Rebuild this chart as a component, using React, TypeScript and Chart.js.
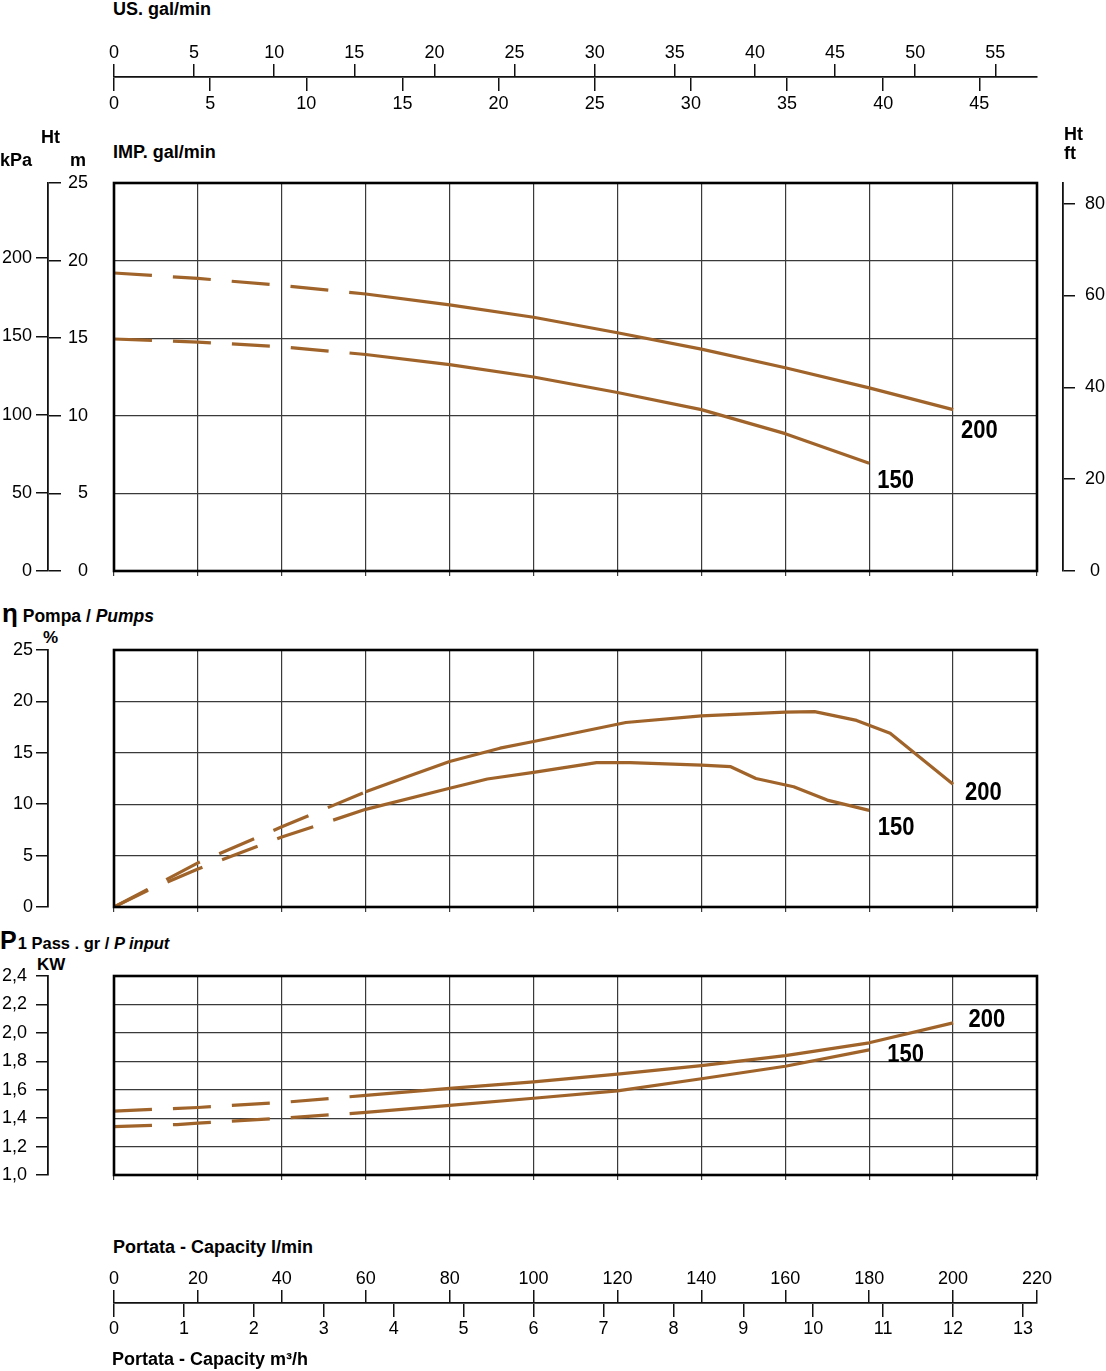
import React, { useEffect, useRef } from 'react';
import { Chart, registerables } from 'chart.js';

Chart.register(...registerables);

// ---------------- data ----------------
const CURVE_200 = '200';
const CURVE_150 = '150';

// Head, m  vs capacity, l/min
const HEAD_Q_200 = [0, 20, 40, 60, 80, 100, 120, 140, 160, 180, 200];
const HEAD_200 = [19.2, 18.85, 18.4, 17.85, 17.15, 16.35, 15.35, 14.3, 13.1, 11.8, 10.4];
const HEAD_Q_150 = [0, 20, 40, 60, 80, 100, 120, 140, 160, 180];
const HEAD_150 = [14.95, 14.75, 14.45, 13.95, 13.3, 12.5, 11.5, 10.4, 8.85, 6.95];

// Pump efficiency, %
const EFF_Q_200 = [0, 8, 20, 40, 60, 70, 80, 92, 100, 122, 140, 160, 167, 177, 185, 200];
const EFF_200 = [0, 1.7, 4.3, 7.8, 11.2, 12.7, 14.15, 15.45, 16.1, 17.95, 18.6, 18.95, 19.0, 18.15, 16.9, 11.95];
const EFF_Q_150 = [0, 8, 20, 40, 60, 80, 89, 100, 115, 123, 140, 147, 153, 162, 170, 180];
const EFF_150 = [0, 1.6, 3.7, 6.8, 9.5, 11.55, 12.45, 13.1, 14.05, 14.05, 13.8, 13.65, 12.5, 11.7, 10.4, 9.4];

// Input power P1, kW
const KW_Q_200 = [0, 20, 40, 60, 80, 100, 120, 140, 160, 180, 200];
const KW_200 = [1.45, 1.475, 1.51, 1.56, 1.61, 1.655, 1.71, 1.77, 1.84, 1.93, 2.07];
const KW_Q_150 = [0, 15, 20, 40, 60, 80, 100, 120, 140, 160, 180];
const KW_150 = [1.34, 1.355, 1.365, 1.4, 1.44, 1.49, 1.54, 1.592, 1.677, 1.765, 1.88];

const DASHED_UNTIL_Q = 60; // curves are dashed below this capacity

// axis ticks
const LPM_TICKS = [0, 20, 40, 60, 80, 100, 120, 140, 160, 180, 200, 220];
const M3H_TICKS = [0, 1, 2, 3, 4, 5, 6, 7, 8, 9, 10, 11, 12, 13];
const US_TICKS = [0, 5, 10, 15, 20, 25, 30, 35, 40, 45, 50, 55];
const IMP_TICKS = [0, 5, 10, 15, 20, 25, 30, 35, 40, 45];
const M_TICKS = [0, 5, 10, 15, 20, 25];
const KPA_TICKS = [0, 50, 100, 150, 200];
const FT_TICKS = [0, 20, 40, 60, 80];
const EFF_TICKS = [0, 5, 10, 15, 20, 25];
const KW_TICKS = [1.0, 1.2, 1.4, 1.6, 1.8, 2.0, 2.2, 2.4];

// axis ranges
const Q_MAX = 220;
const US_MAX = 57.6;
const IMP_MAX = 48;
const M3H_MAX = 13.2;
const H_MAX = 25;
const KPA_MAX = 248;
const FT_MAX = 84.5;
const EFF_MAX = 25;
const KW_MIN = 1.0;
const KW_MAX = 2.4;

// ---------------- styles ----------------
const CURVE_COLOR = '#a0642a';
const GRID_COLOR = '#3a3a3a';
const AXIS_COLOR = '#111';
const DASH = [38, 21];
const SANS = "'Liberation Sans', Arial, Helvetica, sans-serif";
const TICK_FONT = { family: SANS, size: 18, lineHeight: 1 };

const fixTicks = (values: number[]) => (scale: any) => {
  scale.ticks = values.map((v) => ({ value: v }));
};
const setW = (w: number) => (s: any) => {
  s.width = w;
};
const setH = (h: number) => (s: any) => {
  s.height = h;
};
const commaFmt = (v: any) => Number(v).toFixed(1).replace('.', ',');

const framePlugin = {
  id: 'frame',
  afterDatasetsDraw(chart: any) {
    const { ctx, chartArea: a } = chart;
    ctx.save();
    ctx.strokeStyle = '#000';
    ctx.lineWidth = 2.6;
    ctx.strokeRect(a.left, a.top, a.right - a.left, a.bottom - a.top);
    ctx.restore();
  },
};

// draws each curve's name next to its last point (condensed bold text)
const curveLabelPlugin = {
  id: 'curveLabels',
  afterDatasetsDraw(chart: any, _args: any, opts: any) {
    if (!opts || !opts.offsets) return;
    const { ctx } = chart;
    const size = opts.size || 25;
    const squeeze = opts.squeeze || 0.88;
    ctx.save();
    ctx.font = `bold ${size}px ${SANS}`;
    ctx.fillStyle = '#000';
    ctx.textAlign = 'left';
    ctx.textBaseline = 'alphabetic';
    chart.data.datasets.forEach((ds: any, i: number) => {
      const meta = chart.getDatasetMeta(i);
      const pt = meta.data[meta.data.length - 1];
      const off = opts.offsets[i];
      if (!pt || !off) return;
      ctx.save();
      ctx.translate(pt.x + off[0], pt.y + off[1] + size * 0.358);
      ctx.scale(squeeze, 1);
      ctx.fillText(ds.label, 0, 0);
      ctx.restore();
    });
    ctx.restore();
  },
};

function curve(name: string, xs: number[], ys: number[]) {
  return {
    label: name,
    data: xs.map((x, i) => ({ x, y: ys[i] })),
    borderColor: CURVE_COLOR,
    backgroundColor: CURVE_COLOR,
    borderWidth: 3.2,
    pointRadius: 0,
    pointHoverRadius: 0,
    tension: 0,
    fill: false,
    borderCapStyle: 'butt',
    borderJoinStyle: 'round',
    segment: {
      borderDash: (c: any) => (c.p1.parsed.x <= DASHED_UNTIL_Q ? DASH : []),
    },
  };
}

function qAxis(height: number) {
  return {
    axis: 'x',
    type: 'linear',
    position: 'bottom',
    min: 0,
    max: Q_MAX,
    afterBuildTicks: fixTicks(LPM_TICKS),
    ticks: { display: false },
    grid: { color: GRID_COLOR, lineWidth: 1.2, tickLength: 5, drawTicks: true },
    border: { display: false },
    afterFit: setH(height),
  };
}

function gridAxis(min: number, max: number, ticks: number[], width: number) {
  return {
    axis: 'y',
    type: 'linear',
    position: 'left',
    weight: 0,
    min,
    max,
    afterBuildTicks: fixTicks(ticks),
    ticks: { display: false },
    grid: { color: GRID_COLOR, lineWidth: 1.2, drawTicks: false },
    border: { display: false },
    afterFit: setW(width),
  };
}

function valueAxis(
  position: string,
  min: number,
  max: number,
  ticks: number[],
  width: number,
  padding: number,
  weight: number,
  crossAlign: string,
  fmt?: (v: any) => string,
  showBorder = true,
) {
  return {
    axis: 'y',
    type: 'linear',
    position,
    weight,
    min,
    max,
    afterBuildTicks: fixTicks(ticks),
    ticks: {
      font: TICK_FONT,
      color: '#000',
      padding,
      crossAlign,
      autoSkip: false,
      callback: fmt || ((v: any) => String(v)),
    },
    grid: { drawOnChartArea: false, tickLength: 12, color: AXIS_COLOR, lineWidth: 1.5 },
    border: { display: showBorder, color: AXIS_COLOR, width: 1.8 },
    afterFit: setW(width),
  };
}

function hAxis(
  position: string,
  max: number,
  ticks: number[],
  height: number,
  padding: number,
  showBorder: boolean,
) {
  return {
    axis: 'x',
    type: 'linear',
    position,
    min: 0,
    max,
    afterBuildTicks: fixTicks(ticks),
    ticks: {
      font: TICK_FONT,
      color: '#000',
      padding,
      autoSkip: false,
      maxRotation: 0,
      minRotation: 0,
      callback: (v: any) => String(v),
    },
    grid: { drawOnChartArea: false, tickLength: 13, color: AXIS_COLOR, lineWidth: 1.5 },
    border: { display: showBorder, color: AXIS_COLOR, width: 1.8 },
    afterFit: setH(height),
  };
}

const BASE = {
  responsive: false,
  maintainAspectRatio: false,
  animation: false,
  events: [],
};
const NO_UI = { legend: { display: false }, tooltip: { enabled: false }, title: { display: false } };

// ---------------- chart configs ----------------
const topAxesConfig = () => ({
  type: 'line',
  data: { datasets: [] },
  options: {
    ...BASE,
    layout: { padding: { left: 114, right: 69, top: 0, bottom: 0 } },
    plugins: NO_UI,
    scales: {
      us: hAxis('top', US_MAX, US_TICKS, 57, 2, true),
      imp: hAxis('bottom', IMP_MAX, IMP_TICKS, 52, 4, false),
      y: { display: false },
    },
  },
});

const bottomAxesConfig = () => ({
  type: 'line',
  data: { datasets: [] },
  options: {
    ...BASE,
    layout: { padding: { left: 114, right: 69, top: 0, bottom: 0 } },
    plugins: NO_UI,
    scales: {
      lpm: hAxis('top', Q_MAX, LPM_TICKS, 48, 2, true),
      m3h: hAxis('bottom', M3H_MAX, M3H_TICKS, 61, 3, false),
      y: { display: false },
    },
  },
});

const headSideConfig = () => ({
  type: 'line',
  data: { datasets: [] },
  options: {
    ...BASE,
    layout: { padding: { left: 0, right: 0, top: 33, bottom: 19 } },
    plugins: NO_UI,
    scales: {
      x: { display: false },
      kpa: valueAxis('left', 0, KPA_MAX, KPA_TICKS, 48, 4, 0, 'near'),
      mm: valueAxis('right', 0, H_MAX, M_TICKS, 39, 7, 0, 'far', undefined, false),
    },
  },
});

const headConfig = () => ({
  type: 'line',
  data: {
    datasets: [curve(CURVE_200, HEAD_Q_200, HEAD_200), curve(CURVE_150, HEAD_Q_150, HEAD_150)],
  },
  options: {
    ...BASE,
    layout: { padding: { left: 0, right: 0, top: 33, bottom: 0 } },
    plugins: { ...NO_UI, curveLabels: { size: 25, offsets: [[8, 19.5], [8, 15.5]] } },
    scales: {
      x: qAxis(19),
      y: gridAxis(0, H_MAX, M_TICKS, 114),
      gap: {
        axis: 'y',
        type: 'linear',
        position: 'right',
        weight: 0,
        ticks: { display: false },
        grid: { display: false },
        border: { display: false },
        afterFit: setW(26),
      },
      ft: valueAxis('right', 0, FT_MAX, FT_TICKS, 43, 10, 1, 'center'),
    },
  },
  plugins: [framePlugin, curveLabelPlugin],
});

const effConfig = () => ({
  type: 'line',
  data: {
    datasets: [curve(CURVE_200, EFF_Q_200, EFF_200), curve(CURVE_150, EFF_Q_150, EFF_150)],
  },
  options: {
    ...BASE,
    layout: { padding: { left: 0, right: 69, top: 25, bottom: 0 } },
    plugins: { ...NO_UI, curveLabels: { size: 25, offsets: [[12, 6.5], [8.5, 15.5]] } },
    scales: {
      x: qAxis(18),
      y: gridAxis(0, EFF_MAX, EFF_TICKS, 66),
      yl: valueAxis('left', 0, EFF_MAX, EFF_TICKS, 48, 3, 1, 'near'),
    },
  },
  plugins: [framePlugin, curveLabelPlugin],
});

const kwConfig = () => ({
  type: 'line',
  data: {
    datasets: [curve(CURVE_200, KW_Q_200, KW_200), curve(CURVE_150, KW_Q_150, KW_150)],
  },
  options: {
    ...BASE,
    layout: { padding: { left: 0, right: 69, top: 26, bottom: 0 } },
    plugins: { ...NO_UI, curveLabels: { size: 25, offsets: [[15.5, -5], [18, 3]] } },
    scales: {
      x: qAxis(20),
      y: gridAxis(KW_MIN, KW_MAX, KW_TICKS, 66),
      yl: valueAxis('left', KW_MIN, KW_MAX, KW_TICKS, 48, 9, 1, 'near', commaFmt),
    },
  },
  plugins: [framePlugin, curveLabelPlugin],
});

// ---------------- components ----------------
type Box = { left: number; top: number; width: number; height: number };

function ChartCanvas({ box, build }: { box: Box; build: () => any }) {
  const ref = useRef<HTMLCanvasElement | null>(null);
  useEffect(() => {
    if (!ref.current) return;
    const chart = new Chart(ref.current, build() as any);
    return () => chart.destroy();
  }, []);
  return (
    <canvas
      ref={ref}
      width={box.width}
      height={box.height}
      style={{
        position: 'absolute',
        left: box.left,
        top: box.top,
        width: box.width,
        height: box.height,
      }}
    />
  );
}

function Txt({
  x,
  y,
  size = 18,
  children,
  style,
}: {
  x: number;
  y: number;
  size?: number;
  children: any;
  style?: any;
}) {
  return (
    <div
      style={{
        position: 'absolute',
        left: x,
        top: y,
        fontSize: size,
        lineHeight: 1,
        fontWeight: 'bold',
        whiteSpace: 'nowrap',
        fontFamily: SANS,
        color: '#000',
        ...style,
      }}
    >
      {children}
    </div>
  );
}

export default function App() {
  return (
    <div
      style={{
        position: 'absolute',
        left: 0,
        top: 0,
        width: 1106,
        height: 1371,
        background: '#fff',
        overflow: 'hidden',
        fontFamily: SANS,
      }}
    >
      {/* top flow axes */}
      <Txt x={113} y={0}>US. gal/min</Txt>
      <ChartCanvas box={{ left: 0, top: 20, width: 1106, height: 110 }} build={topAxesConfig} />
      <Txt x={113} y={142.7}>IMP. gal/min</Txt>

      {/* head panel */}
      <Txt x={41} y={127.7}>Ht</Txt>
      <Txt x={0} y={151}>kPa</Txt>
      <Txt x={70} y={150.5}>m</Txt>
      <Txt x={1064} y={125}>Ht</Txt>
      <Txt x={1064} y={144.4}>ft</Txt>
      <ChartCanvas box={{ left: 0, top: 150, width: 1106, height: 440 }} build={headConfig} />
      <ChartCanvas box={{ left: 0, top: 150, width: 88, height: 440 }} build={headSideConfig} />

      {/* efficiency panel */}
      <Txt x={2} y={599.7} size={26}>
        η<span style={{ fontSize: 17.5 }}> Pompa / </span>
        <span style={{ fontSize: 17.5, fontStyle: 'italic' }}>Pumps</span>
      </Txt>
      <Txt x={43} y={628.8} size={17}>%</Txt>
      <ChartCanvas box={{ left: 0, top: 625, width: 1106, height: 300 }} build={effConfig} />

      {/* power panel */}
      <Txt x={0} y={927.5} size={25}>
        P<span style={{ fontSize: 16.5, marginLeft: 1 }}>1 Pass . gr / </span>
        <span style={{ fontSize: 16.5, fontStyle: 'italic' }}>P input</span>
      </Txt>
      <Txt x={37} y={955.6} size={17}>KW</Txt>
      <ChartCanvas box={{ left: 0, top: 950, width: 1106, height: 245 }} build={kwConfig} />

      {/* bottom capacity axes */}
      <Txt x={113} y={1237.7}>Portata - Capacity l/min</Txt>
      <ChartCanvas box={{ left: 0, top: 1255, width: 1106, height: 110 }} build={bottomAxesConfig} />
      <Txt x={112} y={1349.7}>Portata - Capacity m³/h</Txt>
    </div>
  );
}
